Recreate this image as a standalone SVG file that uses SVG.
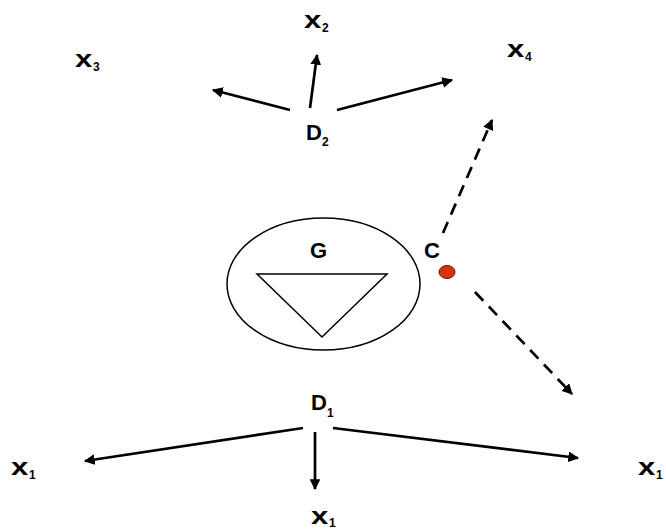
<svg xmlns="http://www.w3.org/2000/svg" width="666" height="529" viewBox="0 0 666 529">
<defs>
<style>
.lbl{font-family:"Liberation Sans",Arial,sans-serif;font-weight:bold;fill:#000;font-size:22px}
.xl{font-size:23px}
.sub{font-family:"Liberation Sans",Arial,sans-serif;font-weight:bold;fill:#000;font-size:12px}
.edge{stroke:#000;stroke-width:2.7;fill:none;marker-end:url(#ah)}
.dash{stroke-dasharray:12,8}
</style>
<marker id="ah" viewBox="0 0 10 10" refX="9" refY="5" markerWidth="4" markerHeight="4" orient="auto" markerUnits="strokeWidth">
<path d="M0,0 L10,5 L0,10 z" fill="#000"/>
</marker>
</defs>
<rect width="666" height="529" fill="#fff"/>
<g id="connectors">
<line class="edge" x1="290" y1="110" x2="213" y2="90"/>
<line class="edge" x1="310" y1="108" x2="317" y2="55"/>
<line class="edge" x1="337" y1="110" x2="452" y2="80"/>
<line class="edge dash" x1="443" y1="233" x2="492" y2="120"/>
<line class="edge dash" x1="475" y1="292" x2="572" y2="394"/>
<line class="edge" x1="303" y1="428" x2="85" y2="461"/>
<line class="edge" x1="315" y1="432" x2="315" y2="489"/>
<line class="edge" x1="333" y1="428" x2="578" y2="458"/>
</g>
<g id="G">
<ellipse cx="323.5" cy="284" rx="96.5" ry="66" fill="none" stroke="#000" stroke-width="1.5"/>
<polygon points="257,274 387,274 322,337" fill="none" stroke="#000" stroke-width="1.5"/>
<text class="lbl" x="310" y="258">G</text>
</g>
<g id="C">
<text class="lbl" x="424" y="258">C</text>
<ellipse cx="447" cy="272" rx="8" ry="6.5" fill="#d8330f" stroke="#5a1a0a" stroke-width="1"/>
</g>
<g id="D2">
<text class="lbl" x="306" y="140">D</text><text class="sub" x="322" y="146">2</text>
</g>
<g id="D1">
<text class="lbl" x="311" y="410">D</text><text class="sub" x="327" y="417">1</text>
</g>
<g id="x2">
<text class="lbl xl" transform="translate(304,28) scale(1.35,1)">x</text><text class="sub" x="322" y="32">2</text>
</g>
<g id="x3">
<text class="lbl xl" transform="translate(75,67) scale(1.35,1)">x</text><text class="sub" x="93" y="71">3</text>
</g>
<g id="x4">
<text class="lbl xl" transform="translate(507,57) scale(1.35,1)">x</text><text class="sub" x="525" y="61">4</text>
</g>
<g id="x1a">
<text class="lbl xl" transform="translate(11,475) scale(1.35,1)">x</text><text class="sub" x="29" y="479">1</text>
</g>
<g id="x1b">
<text class="lbl xl" transform="translate(311,524) scale(1.35,1)">x</text><text class="sub" x="329" y="527">1</text>
</g>
<g id="x1c">
<text class="lbl xl" transform="translate(638,475) scale(1.35,1)">x</text><text class="sub" x="656" y="479">1</text>
</g>
</svg>
